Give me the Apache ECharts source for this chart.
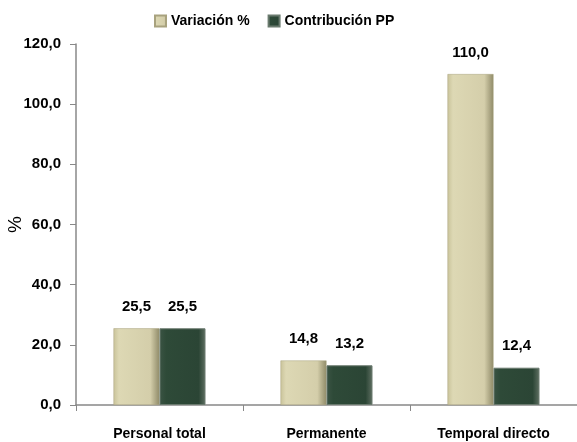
<!DOCTYPE html>
<html><head><meta charset="utf-8">
<script src="https://cdn.jsdelivr.net/npm/echarts@6/dist/echarts.min.js"></script>
<style>html,body{margin:0;padding:0;background:#fff}#c{width:577px;height:442px}</style>
</head><body><div id="c"></div>
<script>
var categories = ['Personal total', 'Permanente', 'Temporal directo'];
var variacion = [25.5, 14.8, 110.0];
var contribucion = [25.5, 13.2, 12.4];
var yTicks = [0, 20, 40, 60, 80, 100, 120];
var FONT = '"Liberation Sans", Arial, sans-serif';
function fmt(v){ return v.toFixed(1).replace('.', ','); }
var chart = echarts.init(document.getElementById('c'));
var beige = new echarts.graphic.LinearGradient(0,0,1,0,[
  {offset:0,color:'#c9c39a'},{offset:0.12,color:'#ddd8b4'},{offset:0.8,color:'#d4ceaa'},{offset:1,color:'#8f8a68'}]);
var green = new echarts.graphic.LinearGradient(0,0,1,0,[
  {offset:0,color:'#3b5444'},{offset:0.15,color:'#2e4a38'},{offset:0.85,color:'#2b4535'},{offset:1,color:'#5f6f62'}]);
chart.setOption({
  animation:false,
  textStyle:{fontFamily:FONT},
  legend:{top:9,left:149,itemWidth:11,itemHeight:11,itemGap:18,
    icon:'rect',
    textStyle:{fontFamily:FONT,fontWeight:'bold',fontSize:14,color:'#000'},
    data:['Variación %','Contribución PP']},
  grid:{left:76,right:0,top:44,bottom:37,containLabel:false,outerBoundsMode:'none'},
  xAxis:{type:'category',data:categories,
    axisLine:{lineStyle:{color:'#888',width:1.5}},
    axisTick:{show:true,length:6,inside:false,alignWithLabel:false,lineStyle:{color:'#888'}},
    axisLabel:{margin:22,fontFamily:FONT,fontWeight:'bold',fontSize:14,color:'#000'}},
  yAxis:{type:'value',min:0,max:120,interval:20,
    name:'%',nameLocation:'middle',nameGap:51,nameRotate:90,nameMoveOverlap:false,
    nameTextStyle:{fontFamily:FONT,fontSize:19,color:'#000'},
    axisLine:{show:true,lineStyle:{color:'#888',width:1.5}},
    axisTick:{show:true,length:6,lineStyle:{color:'#888'}},
    splitLine:{show:false},
    axisLabel:{margin:15,fontFamily:FONT,fontWeight:'bold',fontSize:15,color:'#000',
      formatter:function(v){return fmt(v);}}},
  series:[
    {name:'Variación %',type:'bar',data:variacion,barWidth:46,barGap:'0%',
      itemStyle:{color:beige,borderColor:'#a8a27e',borderWidth:0.5},
      label:{show:true,position:'top',distance:14,fontFamily:FONT,fontWeight:'bold',fontSize:15,color:'#000',
        formatter:function(p){return fmt(p.value);}}},
    {name:'Contribución PP',type:'bar',data:contribucion,barWidth:46,
      itemStyle:{color:green,borderColor:'#6a7a6e',borderWidth:1},
      label:{show:true,position:'top',distance:14,fontFamily:FONT,fontWeight:'bold',fontSize:15,color:'#000',
        formatter:function(p){return fmt(p.value);}}}
  ]
});
</script></body></html>
